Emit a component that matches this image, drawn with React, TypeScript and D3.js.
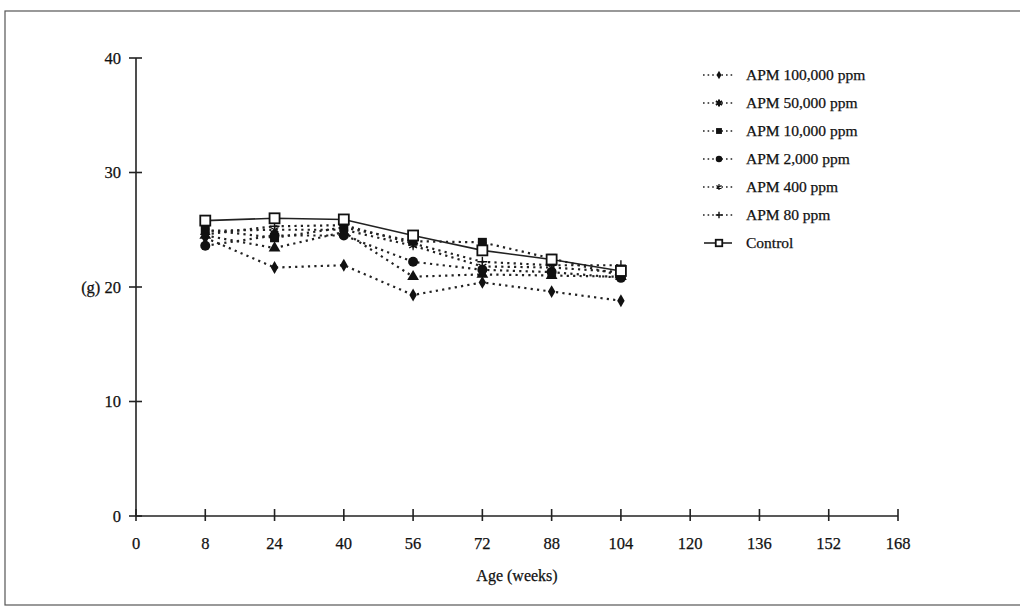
import React from "react";
import * as d3 from "d3";

const xTickLabels = ["0", "8", "24", "40", "56", "72", "88", "104", "120", "136", "152", "168"];
const yTicks = [0, 10, 20, 30, 40];
const ages = [8, 24, 40, 56, 72, 88, 104];

const apm100000 = [24.3, 21.7, 21.9, 19.3, 20.4, 19.6, 18.8];
const apm50000 = [24.5, 23.4, 24.8, 20.9, 21.1, 21.0, 20.9];
const apm10000 = [25.0, 24.3, 25.2, 24.0, 23.9, 22.5, 21.0];
const apm2000 = [23.6, 24.5, 24.5, 22.2, 21.5, 21.3, 20.8];
const apm400 = [24.9, 25.0, 25.0, 23.6, 21.8, 21.7, 21.3];
const apm80 = [24.6, 25.3, 25.4, 23.8, 22.2, 21.9, 21.9];
const control = [25.8, 26.0, 25.9, 24.5, 23.2, 22.4, 21.4];

const seriesNames = [
  "APM 100,000 ppm",
  "APM 50,000 ppm",
  "APM 10,000 ppm",
  "APM 2,000 ppm",
  "APM 400 ppm",
  "APM 80 ppm",
  "Control",
];
const seriesValues = [apm100000, apm50000, apm10000, apm2000, apm400, apm80, control];
const plotMarkers = ["diamond", "triangle", "fsquare", "circle", "asterisk", "plus", "osquare"];
const legendMarkers = ["diamond", "boldasterisk", "fsquare", "circle", "asterisk", "plus", "osquare"];

const FONT = "'Liberation Serif', 'Times New Roman', serif";

function Marker({ kind, x, y, legend }: { kind: string; x: number; y: number; legend?: boolean }) {
  const s = legend ? 0.65 : 1;
  const t = `translate(${x},${y})`;
  switch (kind) {
    case "diamond":
      return <path transform={t} d={d3.symbol(d3.symbolDiamond, 48 * s * s)()!} fill="#111" />;
    case "triangle":
      return <path transform={t} d={d3.symbol(d3.symbolTriangle, 60 * s * s)()!} fill="#111" />;
    case "fsquare":
      return <rect x={x - 4.5 * s} y={y - 4.5 * s} width={9 * s} height={9 * s} fill="#111" />;
    case "circle":
      return <circle cx={x} cy={y} r={5 * s} fill="#111" />;
    case "osquare":
      return (
        <rect x={x - 5 * s} y={y - 5 * s} width={10 * s} height={10 * s} fill="#fff" stroke="#111" strokeWidth={1.8} />
      );
    case "plus": {
      const r = 5 * s;
      return (
        <path transform={t} d={`M${-r},0H${r}M0,${-r}V${r}`} stroke="#111" strokeWidth={1.4} fill="none" />
      );
    }
    case "asterisk":
    case "boldasterisk": {
      const r = (kind === "boldasterisk" ? 5.5 : 4.5) * s;
      const a = r * 0.87;
      const b = r * 0.5;
      return (
        <path
          transform={t}
          d={`M0,${-r}V${r}M${-a},${-b}L${a},${b}M${-a},${b}L${a},${-b}`}
          stroke="#111"
          strokeWidth={kind === "boldasterisk" ? 2 : 1.2}
          fill="none"
        />
      );
    }
  }
  return null;
}

export default function App() {
  const W = 1020;
  const H = 612;
  const x = d3.scalePoint<string>().domain(xTickLabels).range([136, 898]);
  const y = d3.scaleLinear().domain([0, 40]).range([516, 58]);
  const line = d3
    .line<[number, number]>()
    .x((d) => x(String(d[0]))!)
    .y((d) => y(d[1]));

  const legendX0 = 703;
  const legendX1 = 735;
  const legendY = (i: number) => 75 + i * 28;
  const textProps = { fill: "#111", stroke: "#111", strokeWidth: 0.25 };

  return (
    <svg
      width={W}
      height={H}
      style={{ position: "absolute", left: 0, top: 0, background: "#fff" }}
      fontFamily={FONT}
    >
      <rect x={0} y={0} width={W} height={H} fill="#fff" />
      <rect x={5} y={11} width={1020} height={594} fill="none" stroke="#555" strokeWidth={1.2} />

      {/* Y axis */}
      <line x1={136} x2={136} y1={y(40)} y2={y(0)} stroke="#222" strokeWidth={1.6} />
      {yTicks.map((t) => (
        <g key={t}>
          <line x1={129} x2={142} y1={y(t)} y2={y(t)} stroke="#222" strokeWidth={1.6} />
          <text x={121} y={y(t)} dy="0.35em" textAnchor="end" fontSize={16.5} {...textProps}>
            {t === 20 ? "(g) 20" : String(t)}
          </text>
        </g>
      ))}

      {/* X axis */}
      <line x1={x("0")!} x2={x("168")!} y1={y(0)} y2={y(0)} stroke="#222" strokeWidth={1.6} />
      {xTickLabels.map((l) => (
        <g key={l}>
          <line x1={x(l)!} x2={x(l)!} y1={y(0) - 7} y2={y(0) + 5} stroke="#222" strokeWidth={1.6} />
          <text x={x(l)!} y={543} dy="0.35em" textAnchor="middle" fontSize={16.5} {...textProps}>
            {l}
          </text>
        </g>
      ))}
      <text x={517} y={575} dy="0.35em" textAnchor="middle" fontSize={16} {...textProps}>
        Age (weeks)
      </text>

      {/* Series lines */}
      {seriesValues.map((vals, i) => {
        const pts = ages.map((a, j) => [a, vals[j]] as [number, number]);
        const isControl = i === seriesValues.length - 1;
        return (
          <path
            key={"l" + i}
            d={line(pts)!}
            fill="none"
            stroke="#222"
            strokeWidth={isControl ? 1.6 : 2.2}
            strokeDasharray={isControl ? undefined : "2.2,4.2"}
          />
        );
      })}
      {seriesValues.map((vals, i) => (
        <g key={"m" + i}>
          {ages.map((a, j) => (
            <Marker key={j} kind={plotMarkers[i]} x={x(String(a))!} y={y(vals[j])} />
          ))}
        </g>
      ))}

      {/* Legend */}
      {seriesNames.map((name, i) => {
        const isControl = i === seriesNames.length - 1;
        const ly = legendY(i);
        return (
          <g key={"lg" + i}>
            <line
              x1={isControl ? 704 : legendX0}
              x2={isControl ? 732 : legendX1}
              y1={ly}
              y2={ly}
              stroke="#222"
              strokeWidth={1.6}
              strokeDasharray={isControl ? undefined : "1.6,3"}
            />
            <Marker kind={legendMarkers[i]} x={(legendX0 + legendX1) / 2} y={ly} legend />
            <text x={746} y={ly} dy="0.35em" fontSize={15.5} {...textProps}>
              {name}
            </text>
          </g>
        );
      })}
    </svg>
  );
}
